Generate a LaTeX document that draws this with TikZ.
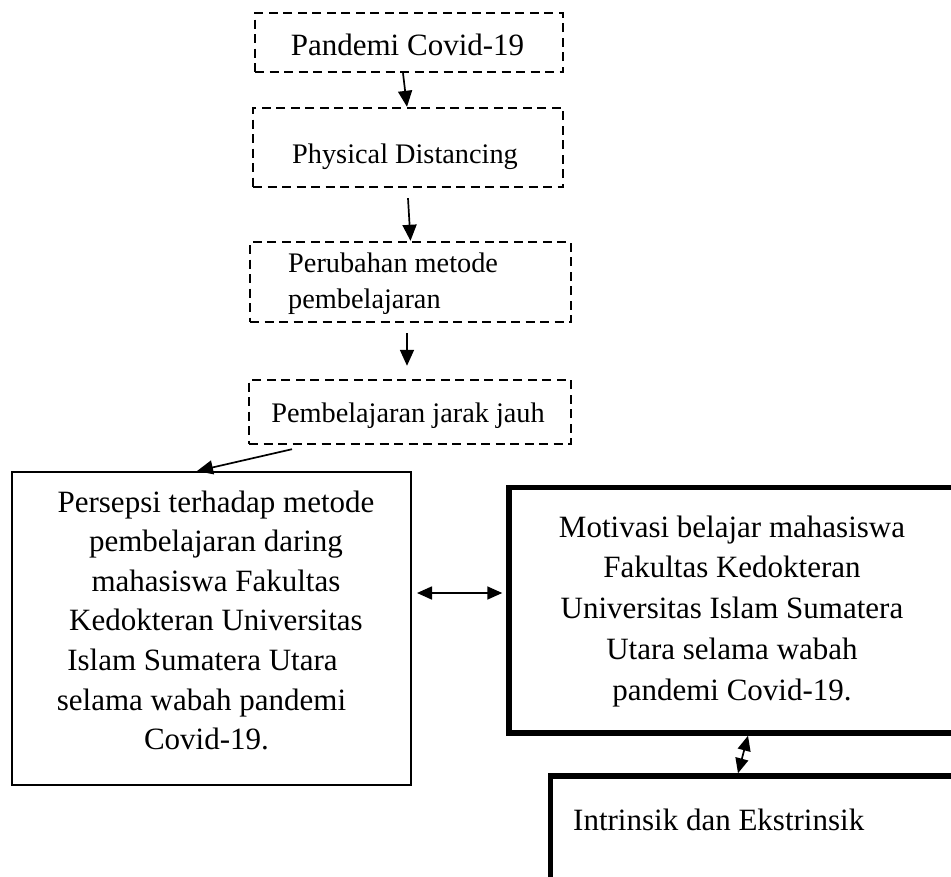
\documentclass[tikz,border=0pt]{standalone}
\usepackage{fontspec}
\setmainfont{Liberation Serif}
\usetikzlibrary{arrows.meta}
\begin{document}
\begin{tikzpicture}[x=1pt,y=-1pt,
  dbox/.style={draw, dash pattern=on 9pt off 5.5pt, line width=2.4pt, inner sep=0pt},
  tbox/.style={draw, line width=2pt, inner sep=0pt},
  kbox/.style={draw, line width=5.5pt, inner sep=0pt},
  arr/.style={line width=1.7pt, -{Triangle[length=16pt,width=14pt]}},
  darr/.style={line width=1.7pt, {Triangle[length=15pt,width=13pt]}-{Triangle[length=15pt,width=13pt]}},
  bigtxt/.style={font=\fontsize{31}{39.6}\selectfont, inner sep=0pt},
  mottxt/.style={font=\fontsize{31}{40.8}\selectfont, inner sep=0pt},
  smalltxt/.style={font=\fontsize{28.3}{36}\selectfont, inner sep=0pt}]
\clip (0,0) rectangle (951,876);
\fill[white] (0,0) rectangle (951,876);
% dashed boxes
\node[dbox, minimum width=308pt, minimum height=59pt] (b1) at (409,42.5) {};
\node[bigtxt, anchor=base] (b1t) at (407.5,55) {Pandemi Covid-19};
\node[dbox, minimum width=310pt, minimum height=79pt] (b2) at (408,147.5) {};
\node[smalltxt, anchor=base] (b2t) at (405,163) {Physical Distancing};
\node[dbox, minimum width=321pt, minimum height=80pt] (b3) at (410.5,282) {};
\node[smalltxt, anchor=base west] (b3t) at (288,272) {\begin{tabular}[t]{@{}l@{}}Perubahan metode\\ pembelajaran\end{tabular}};
\node[dbox, minimum width=322pt, minimum height=64pt] (b4) at (410,412) {};
\node[smalltxt, anchor=base] (b4t) at (408,422) {Pembelajaran jarak jauh};
% solid boxes
\node[tbox, minimum width=399pt, minimum height=313pt] (pers) at (211.5,628.5) {};
\node[bigtxt, anchor=base] (perst) at (216,512) {\begin{tabular}[t]{@{}c@{}}Persepsi terhadap metode\\ pembelajaran daring\\ mahasiswa Fakultas\\ Kedokteran Universitas\\ Islam Sumatera Utara\hspace*{27pt}\\ selama wabah pandemi\hspace*{29pt}\\ Covid-19.\hspace*{19pt}\end{tabular}};
\node[kbox, minimum width=447pt, minimum height=245.5pt] (mot) at (732.5,610.25) {};
\node[mottxt, anchor=base] (mott) at (732,537) {\begin{tabular}[t]{@{}c@{}}Motivasi belajar mahasiswa\\ Fakultas Kedokteran\\ Universitas Islam Sumatera\\ Utara selama wabah\\ pandemi Covid-19.\end{tabular}};
\node[kbox, minimum width=409.5pt, minimum height=124pt] (intr) at (755.25,838) {};
\node[bigtxt, anchor=base west] (intrt) at (573,830) {Intrinsik dan Ekstrinsik};
% arrows
\draw[arr] ([xshift=-6pt]b1.south) -- ([xshift=-1pt]b2.north);
\draw[arr] ([yshift=-10pt]b2.south) -- (b3.north);
\draw[arr] ([xshift=-3.5pt,yshift=-10pt]b3.south) -- ([xshift=-3pt,yshift=13pt]b4.north);
\draw[arr] ([xshift=-118pt,yshift=-4pt]b4.south) -- ([xshift=-14.5pt]pers.north);
\draw[darr] ([xshift=5pt,yshift=35.5pt]pers.east) -- ([xshift=-4pt,yshift=17.25pt]mot.west);
\draw[darr] ([xshift=15.5pt]mot.south) -- ([xshift=-17.25pt]intr.north);
\end{tikzpicture}
\end{document}
